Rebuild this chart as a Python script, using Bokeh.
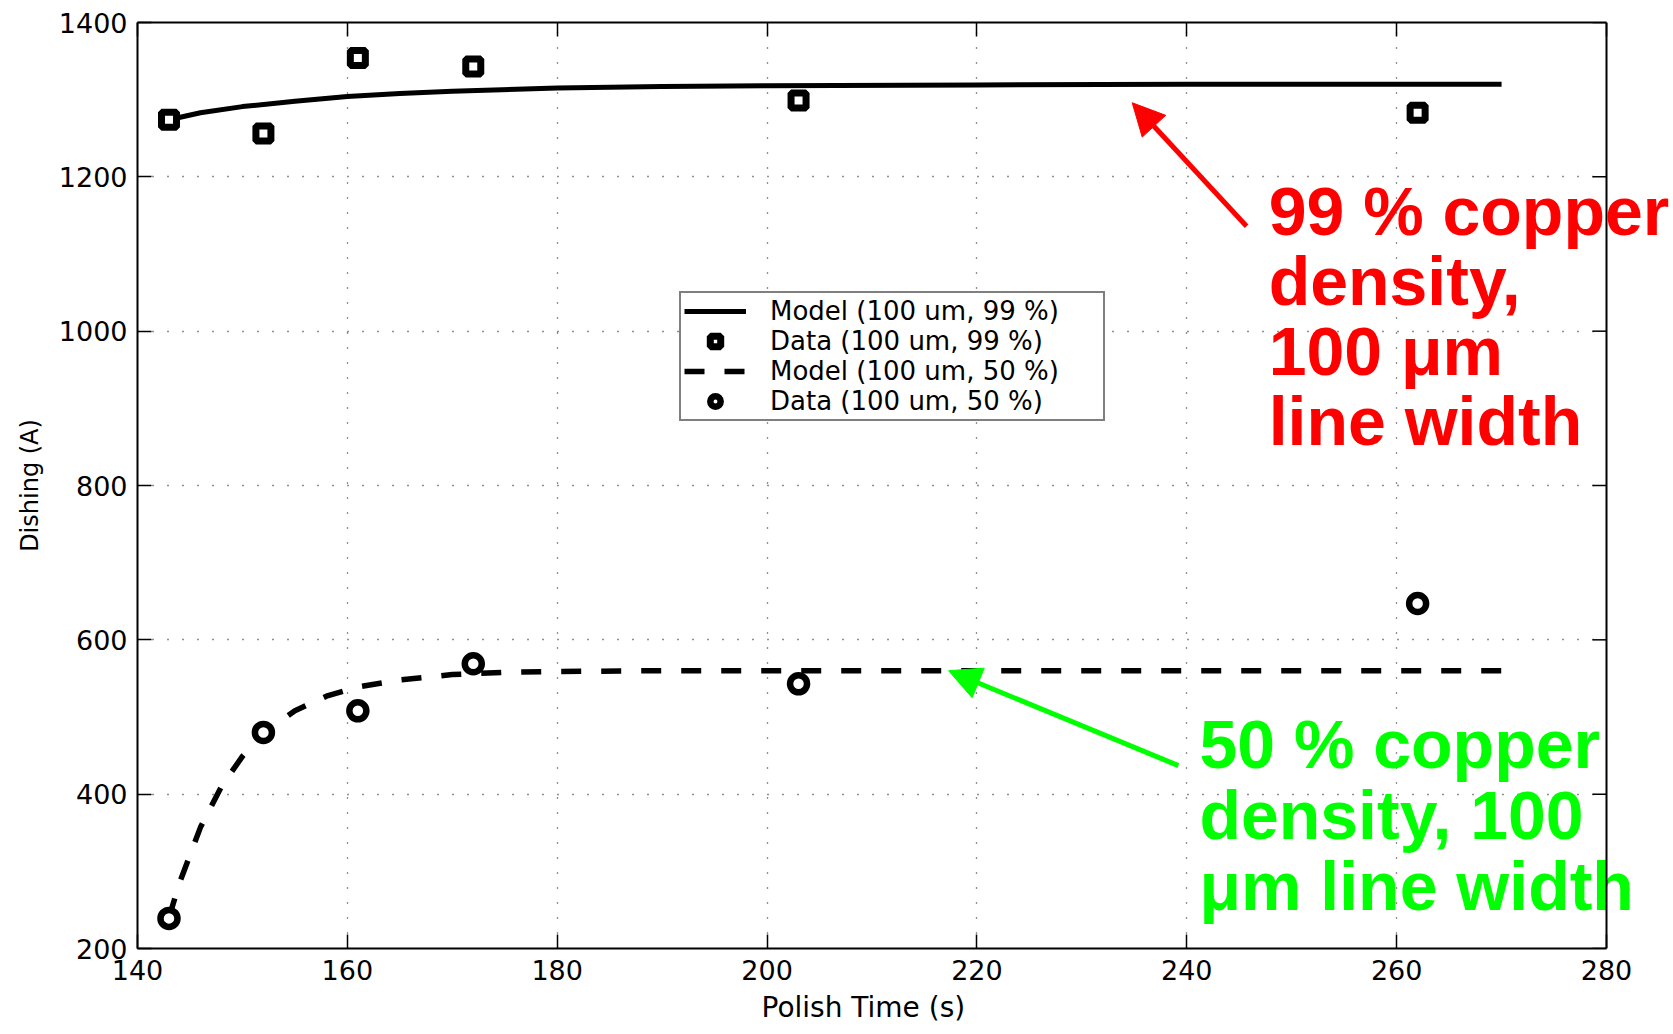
from bokeh.plotting import figure
from bokeh.models import (Range1d, LinearAxis, FixedTicker, Label, Arrow, NormalHead,
                          Legend, LegendItem, Span, BoxAnnotation, Title)
from bokeh.embed import file_html
from bokeh.resources import INLINE

# ---- data ----
data_x = [143, 152, 161, 172, 203, 262]
data99 = [1274, 1256, 1354, 1343, 1299, 1283]
data50 = [239, 480, 508, 569, 543, 647]

model99_x = [143, 146, 150, 155, 160, 165, 170, 180, 190, 200, 220, 240, 270]
model99_y = [1274, 1283, 1291, 1298, 1304, 1308, 1311, 1315, 1317, 1318, 1319, 1320, 1320]

model50_x = [143, 144, 146, 148, 150, 152, 155, 158, 161, 165, 170, 175, 180, 190, 270]
model50_y = [240, 285, 357, 410, 449, 479, 508, 527, 539, 548, 555, 558, 559, 560, 560]

x_ticks = [140, 160, 180, 200, 220, 240, 260, 280]
y_ticks = [200, 400, 600, 800, 1000, 1200, 1400]

X_MIN, X_MAX = 140, 280
FONT = "DejaVu Sans"
BFONT = "Liberation Sans"

# geometry: axes box spans 1469 px for 140..280; the frame is extended to the
# canvas edge so the annotation text on the right is not clipped
LEFT, AXES_W, W = 137, 1469, 1673
px_per_unit = AXES_W / (X_MAX - X_MIN)
x_end = X_MIN + (W - LEFT) / px_per_unit

p = figure(width=W, height=1034, output_backend="svg", toolbar_location=None,
           x_range=Range1d(X_MIN, x_end), y_range=Range1d(200, 1400),
           min_border_left=LEFT, min_border_right=0, min_border_top=22, min_border_bottom=86,
           background_fill_color="white", border_fill_color="white")

p.outline_line_color = None

for ax in [p.xaxis[0], p.yaxis[0]]:
    ax.major_tick_in = 14
    ax.major_tick_out = 0
    ax.minor_tick_line_color = None
    ax.axis_line_width = 2
    ax.major_tick_line_width = 1.5
    ax.major_label_text_font = FONT
    ax.major_label_text_font_size = "27px"
    ax.major_label_text_color = "black"
    ax.axis_label_text_font = FONT
    ax.axis_label_text_font_style = "normal"
    ax.axis_label_text_color = "black"

p.xaxis[0].ticker = FixedTicker(ticks=x_ticks)
p.xaxis[0].bounds = (X_MIN, X_MAX)
p.yaxis[0].ticker = FixedTicker(ticks=y_ticks)
p.yaxis[0].axis_label = "Dishing (A)"
p.yaxis[0].axis_label_text_font_size = "24px"
p.xaxis[0].major_label_standoff = 11
p.yaxis[0].major_label_standoff = 10
p.yaxis[0].axis_label_standoff = 12

# x-axis title, centred under the 140..280 axes box
XLABEL = "Polish Time (s)"
xlabel_w = 205
p.add_layout(Title(text=XLABEL, align="left", offset=(AXES_W - xlabel_w) / 2 - 8,
                   vertical_align="top",
                   text_font=FONT, text_font_size="28px", text_font_style="normal",
                   text_color="black", standoff=16), "below")

top_ax = LinearAxis(ticker=FixedTicker(ticks=x_ticks), major_label_text_font_size="0px",
                    major_tick_in=14, major_tick_out=0, minor_tick_line_color=None,
                    axis_line_color="black", axis_line_width=2, major_tick_line_width=1.5,
                    bounds=(X_MIN, X_MAX))
p.add_layout(top_ax, "above")

p.xgrid[0].ticker = FixedTicker(ticks=x_ticks[:-1])
p.ygrid[0].ticker = FixedTicker(ticks=y_ticks)
for g in [p.xgrid[0], p.ygrid[0]]:
    g.grid_line_color = "#222222"
    g.grid_line_dash = "1 14"
    g.grid_line_width = 1.3

# blank area right of the axes box (holds only the annotation text)
p.add_layout(BoxAnnotation(left=X_MAX, fill_color="white", fill_alpha=1,
                           line_color=None, level="underlay"))

# inward ticks on the right border of the axes box
tick_len = 14 / px_per_unit
p.segment(x0=[X_MAX - tick_len] * len(y_ticks), y0=y_ticks, x1=[X_MAX] * len(y_ticks),
          y1=y_ticks, line_color="black", line_width=1.5)

r1 = p.line(model99_x, model99_y, line_color="black", line_width=5)
r2 = p.scatter(data_x, data99, marker="square", size=15, fill_color="white",
               line_color="black", line_width=7)
r3 = p.line(model50_x, model50_y, line_color="black", line_width=5.5, line_dash="20 20")
r4 = p.scatter(data_x, data50, marker="circle", size=17, fill_color="white",
               line_color="black", line_width=6.5)

legend = Legend(items=[
    LegendItem(label="Model (100 um, 99 %)", renderers=[r1]),
    LegendItem(label="Data (100 um, 99 %)", renderers=[r2]),
    LegendItem(label="Model (100 um, 50 %)", renderers=[r3]),
    LegendItem(label="Data (100 um, 50 %)", renderers=[r4]),
], location=(542, 527))
legend.label_text_font = FONT
legend.label_text_font_size = "26px"
legend.label_text_color = "black"
legend.glyph_width = 62
legend.glyph_height = 26
legend.label_height = 26
legend.label_width = 330
legend.label_standoff = 24
legend.spacing = 0
legend.padding = 3
legend.margin = 0
legend.border_line_color = "black"
legend.border_line_width = 2
legend.background_fill_color = "white"
legend.background_fill_alpha = 1
p.add_layout(legend, "center")

# annotations
p.add_layout(Arrow(end=NormalHead(size=32, fill_color="red", line_color="red"),
                   x_start=245.7, y_start=1136, x_end=234.8, y_end=1296,
                   line_color="red", line_width=5))
p.add_layout(Arrow(end=NormalHead(size=32, fill_color="#00ff00", line_color="#00ff00"),
                   x_start=239.2, y_start=437, x_end=217.3, y_end=560,
                   line_color="#00ff00", line_width=5))

p.add_layout(Label(x=247.8, y=1205, text="99 % copper\ndensity,\n100 \u03bcm\nline width",
                   text_font=BFONT, text_font_style="bold", text_font_size="68px",
                   text_color="red", text_baseline="top", text_align="left",
                   text_line_height=0.92))
p.add_layout(Label(x=241.2, y=514, text="50 % copper\ndensity, 100\n\u03bcm line width",
                   text_font=BFONT, text_font_style="bold", text_font_size="68px",
                   text_color="#00ff00", text_baseline="top", text_align="left",
                   text_line_height=0.93))

# right border of the axes box, drawn over the annotation text as in the original
p.add_layout(Span(location=X_MAX, dimension="height", line_color="black", line_width=2))

open("out.html", "w").write(file_html(p, INLINE))
